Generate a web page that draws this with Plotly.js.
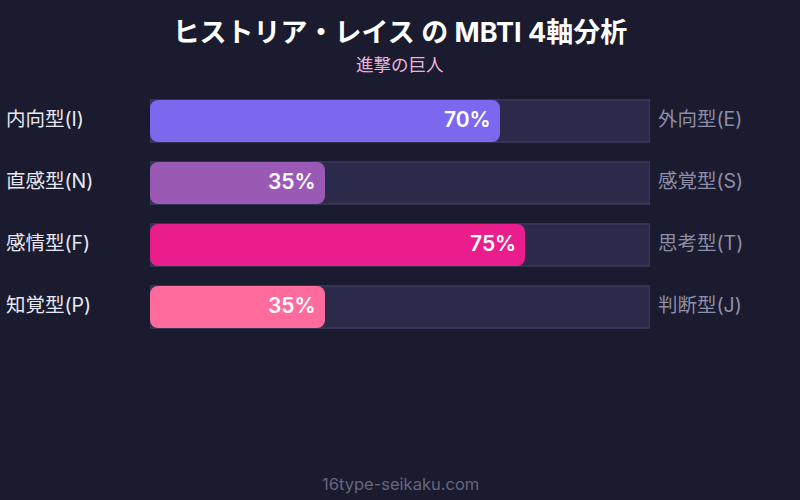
<!DOCTYPE html>
<html>
<head>
<meta charset="utf-8">
<script src="https://cdn.plot.ly/plotly-3.0.1.min.js"></script>
<style>
  html, body { margin: 0; padding: 0; background: #1a1b2e; }
  #chart { width: 800px; height: 500px; }
</style>
</head>
<body>
<div id="chart"></div>
<script>
// MBTI axis data
const axes = ['IE', 'NS', 'FT', 'PJ'];
const leftLabels = ['内向型(I)', '直感型(N)', '感情型(F)', '知覚型(P)'];
const rightLabels = ['外向型(E)', '感覚型(S)', '思考型(T)', '判断型(J)'];
const scores = [70, 35, 75, 35];
const trackMax = [100, 100, 100, 100];
const barColors = ['#7b68ee', '#9b59b6', '#e91e8c', '#ff6b9d'];

const FONT = 'Inter, "Noto Sans CJK JP", sans-serif';
const BAR_W = 0.68;

const track = {
  type: 'bar', orientation: 'h',
  x: trackMax, y: axes,
  width: BAR_W,
  marker: { color: '#2c2a4a', cornerradius: 0, line: { color: '#45456a', width: 1 } },
  hoverinfo: 'skip',
};

// drawn on its own overlaid axis (overlay barmode drops the rounding);
// an explicit base makes plotly round both ends
const fill = {
  type: 'bar', orientation: 'h',
  x: scores, base: 0, y: axes, yaxis: 'y2',
  width: BAR_W,
  marker: { color: barColors, cornerradius: 8, line: { width: 0 } },
  hoverinfo: 'skip',
};

const annotations = [];
axes.forEach((a, i) => {
  annotations.push({
    x: 0, y: a, xref: 'paper', yref: 'y', xanchor: 'left', xshift: -146, yshift: 2,
    text: leftLabels[i], showarrow: false,
    font: { family: FONT, size: 19.5, color: '#e8e8f2' },
  });
  annotations.push({
    x: 1, y: a, xref: 'paper', yref: 'y', xanchor: 'left', xshift: 6, yshift: 2,
    text: rightLabels[i], showarrow: false,
    font: { family: FONT, size: 19.5, color: '#8e8ea6' },
  });
  annotations.push({
    x: scores[i], y: a, xref: 'x', yref: 'y', xanchor: 'right', xshift: -7, yshift: 2,
    text: scores[i] + '%', showarrow: false,
    font: { family: FONT, size: 21, weight: 600, color: '#ffffff' },
  });
});

annotations.push({
  x: 0.5, y: 64, xref: 'paper', yref: 'paper', yanchor: 'middle',
  text: '進撃の巨人', showarrow: false,
  font: { family: FONT, size: 17.5, color: '#e8b4dc' },
});
annotations.push({
  x: 0.5, y: 484, xref: 'paper', yref: 'paper', yanchor: 'middle',
  text: '16type-seikaku.com', showarrow: false,
  font: { family: FONT, size: 16.5, color: '#66667f' },
});

// convert pixel y of header/footer annotations to paper coords
const M = { l: 150, r: 150, t: 90, b: 162 };
const plotH = 500 - M.t - M.b;
annotations.forEach((an) => {
  if (an.yref === 'paper') an.y = (500 - M.b - an.y) / plotH;
});

const yax = { visible: false, fixedrange: true, range: [3.5, -0.5], type: 'category' };

const layout = {
  width: 800, height: 500,
  paper_bgcolor: '#1a1b2e', plot_bgcolor: '#1a1b2e',
  margin: M,
  showlegend: false,
  title: {
    text: 'ヒストリア・レイス の MBTI 4軸分析',
    x: 0.5, xanchor: 'center', y: 0.934, yanchor: 'middle',
    font: { family: FONT, size: 27, weight: 700, color: '#ffffff' },
  },
  xaxis: { range: [0, 100], visible: false, fixedrange: true },
  yaxis: Object.assign({}, yax),
  yaxis2: Object.assign({ overlaying: 'y' }, yax),
  annotations: annotations,
};

Plotly.newPlot('chart', [track, fill], layout, { displayModeBar: false, staticPlot: true });
</script>
</body>
</html>
